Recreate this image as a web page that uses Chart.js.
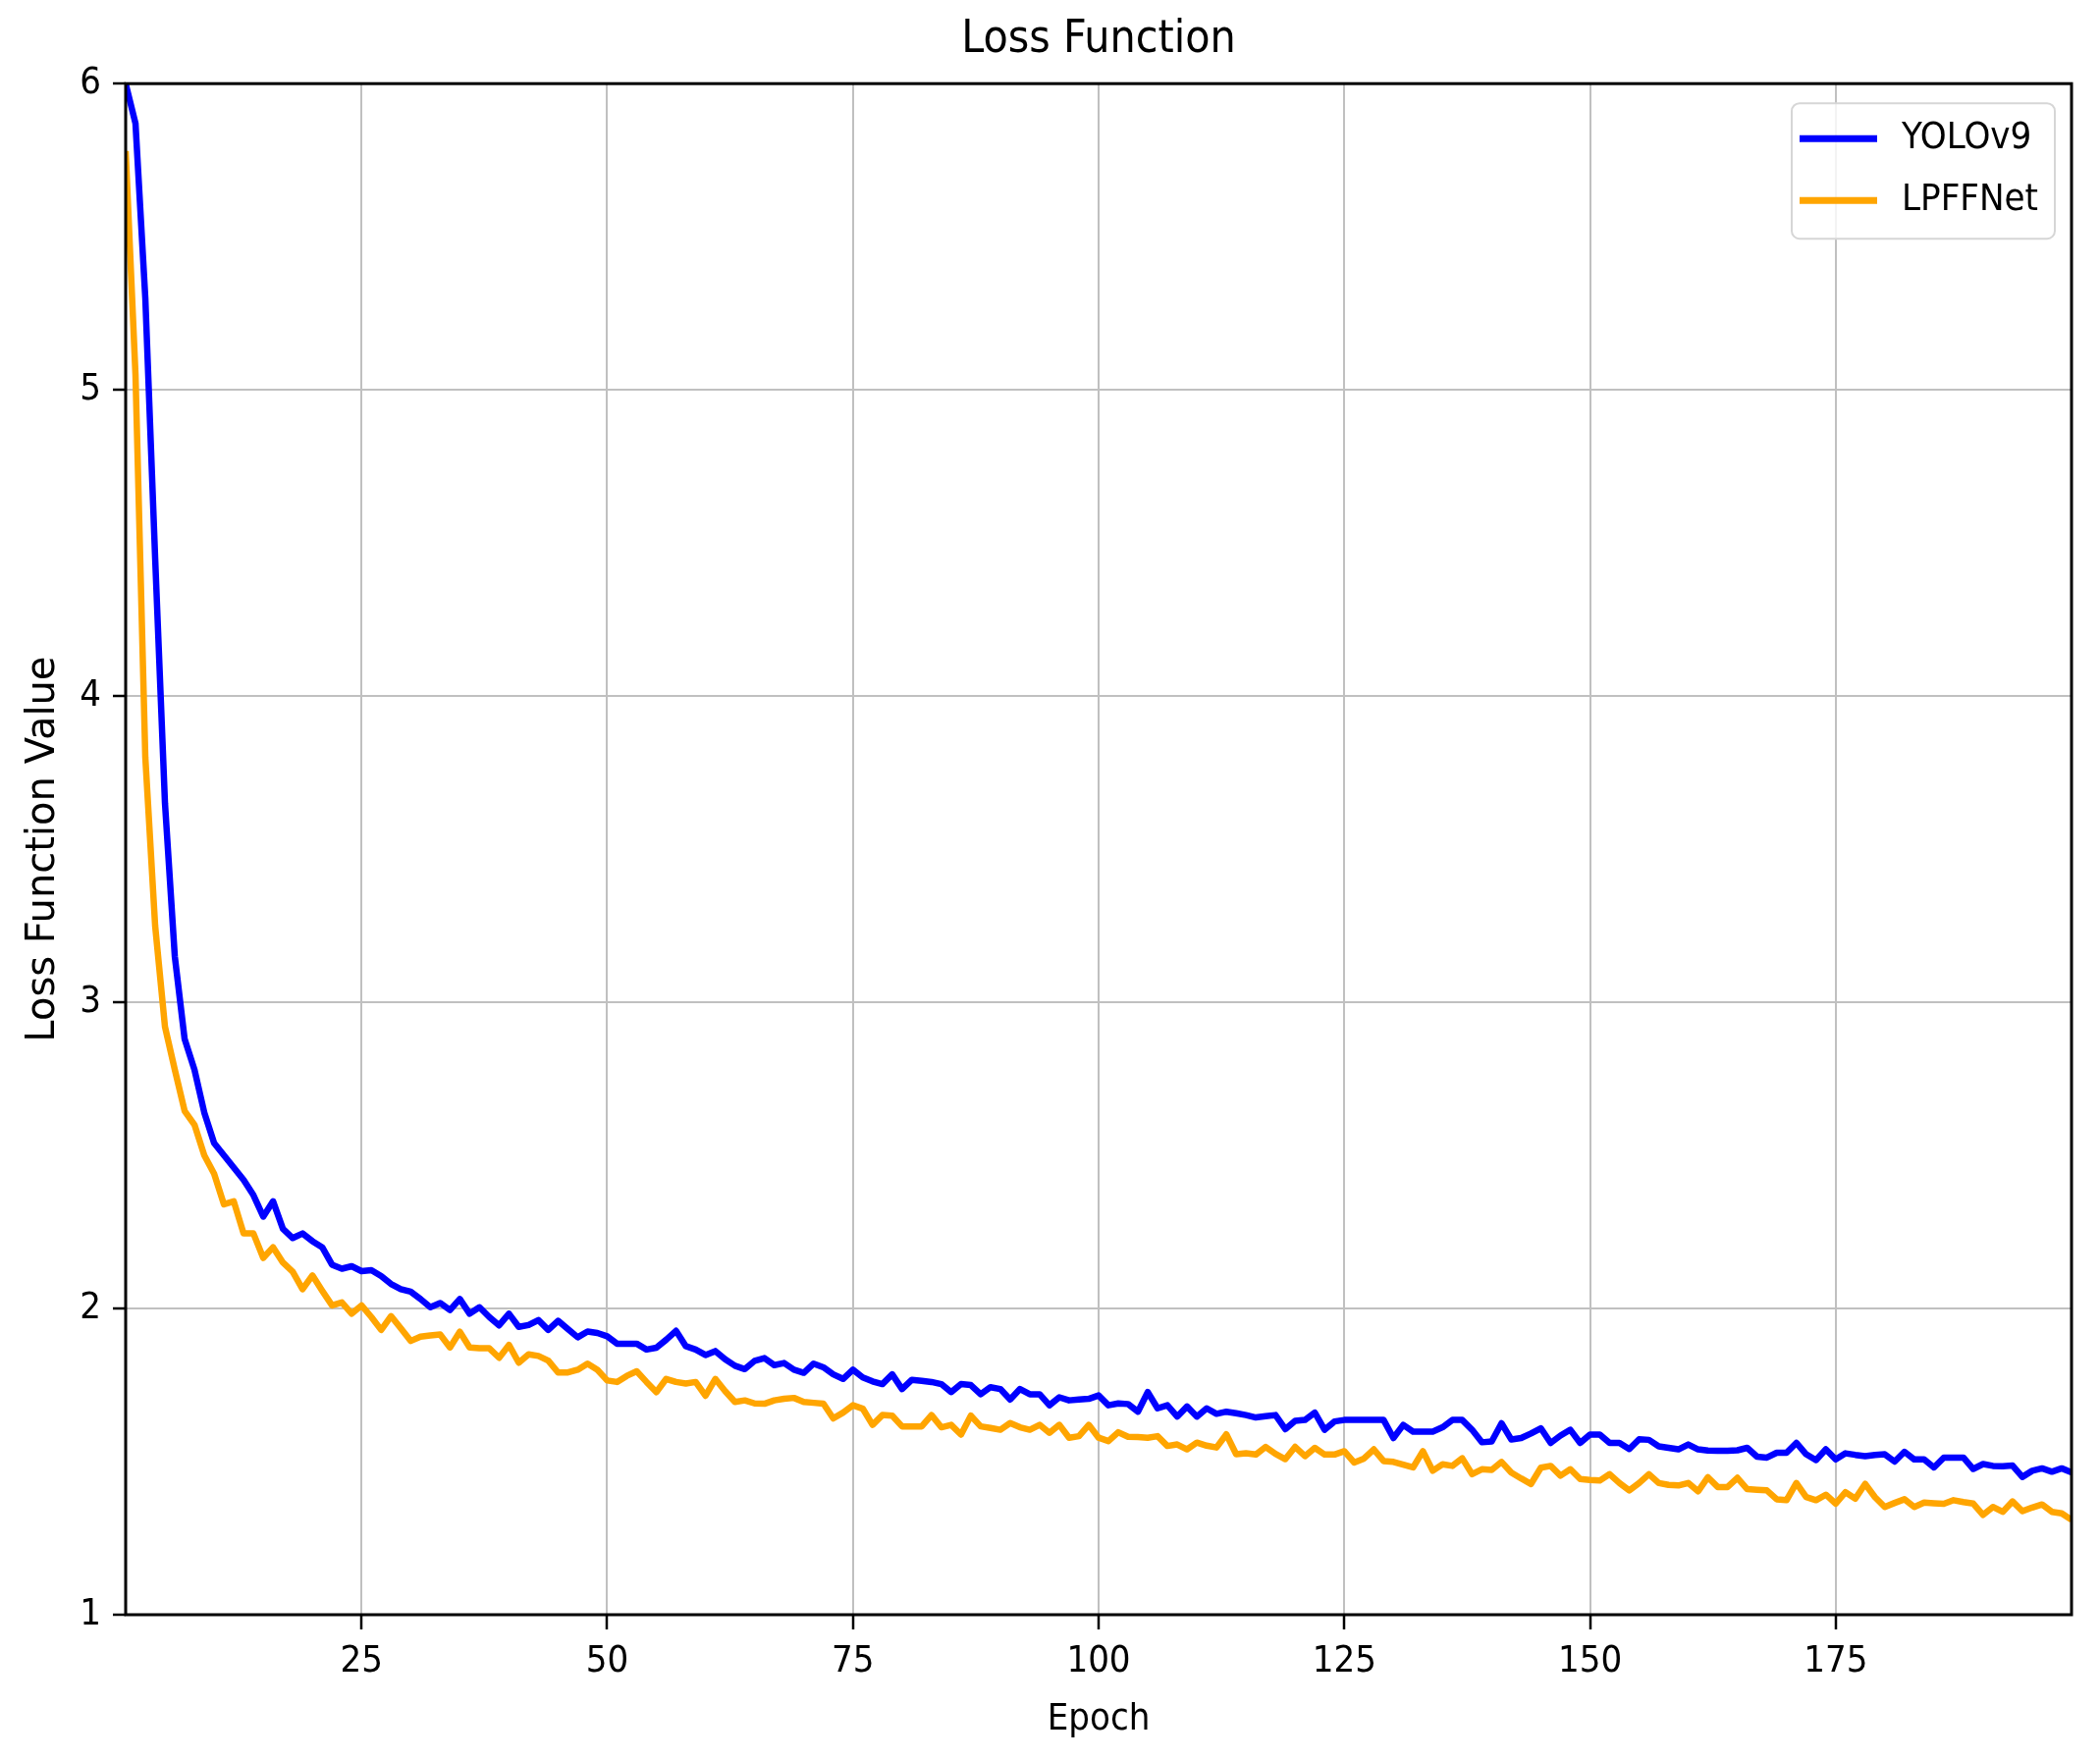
<!DOCTYPE html>
<html lang="en">
  <head>
    <meta charset="utf-8">
    <title>Loss Function</title>
    <script src="https://cdn.jsdelivr.net/npm/chart.js@4.4.1/dist/chart.umd.min.js"></script>
    <style>
      body { margin: 0; background: #fff; }
      #wrap { width: 2139px; height: 1792px; }
    </style>
  </head>
  <body>
    <div id="wrap"><canvas id="loss-chart"></canvas></div>

    <script>
      // loss per epoch, epoch 1 .. 199
      var yolov9Loss = [
        6.0, 5.87, 5.3, 4.45, 3.65, 3.15, 2.88, 2.78, 2.64, 2.54,
        2.50, 2.46, 2.42, 2.37, 2.30, 2.35, 2.26, 2.23, 2.245, 2.22,
        2.20, 2.143, 2.13, 2.138, 2.122, 2.125, 2.106, 2.08, 2.063, 2.055,
        2.031, 2.004, 2.018, 1.995, 2.031, 1.983, 2.004, 1.972, 1.945, 1.983,
        1.94, 1.946, 1.962, 1.93, 1.96, 1.933, 1.906, 1.925, 1.92, 1.909,
        1.885, 1.885, 1.885, 1.866, 1.872, 1.898, 1.927, 1.877, 1.866, 1.848,
        1.861, 1.834, 1.813, 1.802, 1.829, 1.838, 1.815, 1.822, 1.80, 1.79,
        1.82, 1.808, 1.785, 1.77, 1.80, 1.775, 1.762, 1.753, 1.785, 1.737,
        1.767, 1.764, 1.76, 1.753, 1.727, 1.753, 1.75, 1.72, 1.743, 1.737,
        1.703, 1.737, 1.72, 1.72, 1.684, 1.71, 1.70, 1.703, 1.705, 1.716,
        1.684, 1.69, 1.688, 1.663, 1.727, 1.674, 1.684, 1.647, 1.68, 1.647,
        1.674, 1.656, 1.663, 1.658, 1.652, 1.644, 1.648, 1.652, 1.606, 1.633,
        1.636, 1.66, 1.604, 1.631, 1.636, 1.636, 1.636, 1.636, 1.636, 1.577,
        1.62, 1.598, 1.598, 1.598, 1.612, 1.636, 1.636, 1.604, 1.563, 1.566,
        1.625, 1.572, 1.577, 1.592, 1.609, 1.561, 1.585, 1.604, 1.561, 1.588,
        1.588, 1.561, 1.561, 1.541, 1.573, 1.571, 1.55, 1.545, 1.54, 1.556,
        1.54, 1.536, 1.535, 1.535, 1.537, 1.545, 1.516, 1.513, 1.529, 1.529,
        1.561, 1.524, 1.505, 1.54, 1.507, 1.527, 1.522, 1.518, 1.522, 1.524,
        1.50, 1.532, 1.507, 1.507, 1.481, 1.513, 1.513, 1.513, 1.476, 1.492,
        1.486, 1.485, 1.487, 1.45, 1.47, 1.478, 1.467, 1.478, 1.465
      ];
      var lpffnetLoss = [
        5.78, 5.05, 3.8, 3.25, 2.92, 2.78, 2.645, 2.6, 2.5, 2.44,
        2.34, 2.35, 2.245, 2.245, 2.165, 2.2, 2.15, 2.12, 2.063, 2.108,
        2.058, 2.01, 2.02, 1.983, 2.01, 1.972, 1.93, 1.975, 1.935, 1.894,
        1.908, 1.912, 1.915, 1.873, 1.924, 1.873, 1.87, 1.87, 1.839, 1.881,
        1.823, 1.85, 1.845, 1.83, 1.791, 1.791, 1.80, 1.82, 1.80, 1.765,
        1.76, 1.78, 1.795, 1.76, 1.727, 1.77, 1.76, 1.755, 1.76, 1.715,
        1.77, 1.73, 1.695, 1.70, 1.69, 1.689, 1.70, 1.705, 1.708, 1.695,
        1.692, 1.689, 1.641, 1.66, 1.684, 1.673, 1.62, 1.652, 1.65, 1.615,
        1.615, 1.615, 1.652, 1.612, 1.62, 1.588, 1.65, 1.615, 1.61, 1.604,
        1.626, 1.612, 1.604, 1.62, 1.594, 1.62, 1.578, 1.583, 1.62, 1.578,
        1.567, 1.596, 1.581, 1.58, 1.578, 1.583, 1.551, 1.556, 1.54, 1.562,
        1.552, 1.546, 1.589, 1.524, 1.527, 1.523, 1.548, 1.525, 1.508, 1.548,
        1.518, 1.545, 1.523, 1.523, 1.534, 1.497, 1.51, 1.54, 1.502, 1.499,
        1.49, 1.481, 1.534, 1.47, 1.491, 1.486, 1.511, 1.459, 1.475, 1.473,
        1.499, 1.464, 1.445, 1.427, 1.48, 1.486, 1.454, 1.475, 1.443, 1.44,
        1.438, 1.459, 1.43, 1.406, 1.43, 1.459, 1.43, 1.424, 1.422, 1.43,
        1.403, 1.449, 1.417, 1.417, 1.447, 1.41, 1.408, 1.406, 1.377, 1.374,
        1.43, 1.384, 1.374, 1.392, 1.363, 1.40, 1.379, 1.427, 1.384, 1.352,
        1.365, 1.377, 1.352, 1.366, 1.364, 1.362, 1.374, 1.368, 1.363, 1.326,
        1.352, 1.336, 1.37, 1.338, 1.35, 1.36, 1.336, 1.331, 1.31
      ];
      var firstEpoch = 1;
      var lastEpoch = 199;
      var xTickValues = [25, 50, 75, 100, 125, 150, 175];
      var yTickValues = [1, 2, 3, 4, 5, 6];

      var FONT = "'DejaVu Sans Condensed', 'DejaVu Sans', sans-serif";

      function points(values) {
        return values.map(function (v, i) { return { x: firstEpoch + i, y: v }; });
      }

      // matplotlib look: black frame all round + boxed legend in the corner
      var frameAndLegend = {
        id: 'frameAndLegend',
        afterDraw: function (chart) {
          var ctx = chart.ctx;
          var a = chart.chartArea;
          ctx.save();
          ctx.strokeStyle = '#000';
          ctx.lineWidth = 3;
          ctx.strokeRect(a.left, a.top, a.right - a.left, a.bottom - a.top);

          var bx = a.right - 285, by = a.top + 20, bw = 268, bh = 138;
          ctx.beginPath();
          ctx.roundRect(bx, by, bw, bh, 8);
          ctx.fillStyle = 'rgba(255,255,255,0.8)';
          ctx.fill();
          ctx.strokeStyle = '#d6d6d6';
          ctx.lineWidth = 2;
          ctx.stroke();

          ctx.font = '38px ' + FONT;
          ctx.textBaseline = 'middle';
          ctx.textAlign = 'left';
          chart.data.datasets.forEach(function (ds, i) {
            var y = by + 36 + i * 63;
            ctx.beginPath();
            ctx.moveTo(bx + 8, y);
            ctx.lineTo(bx + 87, y);
            ctx.strokeStyle = ds.borderColor;
            ctx.lineWidth = 7;
            ctx.stroke();
            ctx.fillStyle = '#000';
            ctx.fillText(ds.label, bx + 112, y);
          });
          ctx.restore();
        }
      };

      new Chart(document.getElementById('loss-chart'), {
        type: 'line',
        data: {
          datasets: [
            {
              label: 'YOLOv9',
              data: points(yolov9Loss),
              borderColor: '#0000ff',
              borderWidth: 6.5,
              pointRadius: 0,
              tension: 0,
              borderJoinStyle: 'round',
              order: 1
            },
            {
              label: 'LPFFNet',
              data: points(lpffnetLoss),
              borderColor: '#ffa500',
              borderWidth: 6.5,
              pointRadius: 0,
              tension: 0,
              borderJoinStyle: 'round',
              order: 0
            }
          ]
        },
        options: {
          responsive: true,
          maintainAspectRatio: false,
          devicePixelRatio: 1,
          animation: false,
          layout: { padding: { left: 0, right: 29, top: 0, bottom: 0 } },
          plugins: {
            legend: { display: false },
            tooltip: { enabled: false },
            title: {
              display: true,
              text: 'Loss Function',
              fullSize: false,
              color: '#000',
              font: { family: FONT, size: 46, weight: 'normal' },
              padding: { top: 13, bottom: 17 }
            }
          },
          scales: {
            x: {
              type: 'linear',
              min: firstEpoch,
              max: lastEpoch,
              afterBuildTicks: function (s) {
                s.ticks = xTickValues.map(function (v) { return { value: v }; });
              },
              afterFit: function (s) { s.height = 147; },
              border: { display: false },
              grid: { color: '#c0c0c0', lineWidth: 2, tickLength: 15, tickColor: '#000', tickWidth: 2.5 },
              ticks: { color: '#000', font: { family: FONT, size: 38 }, padding: 10, maxRotation: 0, autoSkip: false },
              title: {
                display: true,
                text: 'Epoch',
                color: '#000',
                font: { family: FONT, size: 38 },
                padding: { top: 0, bottom: 17 }
              }
            },
            y: {
              min: 1,
              max: 6,
              afterBuildTicks: function (s) {
                s.ticks = yTickValues.map(function (v) { return { value: v }; });
              },
              afterFit: function (s) { s.width = 128; },
              border: { display: false },
              grid: { color: '#c0c0c0', lineWidth: 2, tickLength: 13, tickColor: '#000', tickWidth: 2.5 },
              ticks: { color: '#000', font: { family: FONT, size: 38 }, padding: 12 },
              title: {
                display: true,
                text: 'Loss Function Value',
                color: '#000',
                font: { family: "'DejaVu Sans', sans-serif", size: 40 },
                padding: { top: 21, bottom: 0 }
              }
            }
          }
        },
        plugins: [frameAndLegend]
      });
    </script>
  </body>
</html>
